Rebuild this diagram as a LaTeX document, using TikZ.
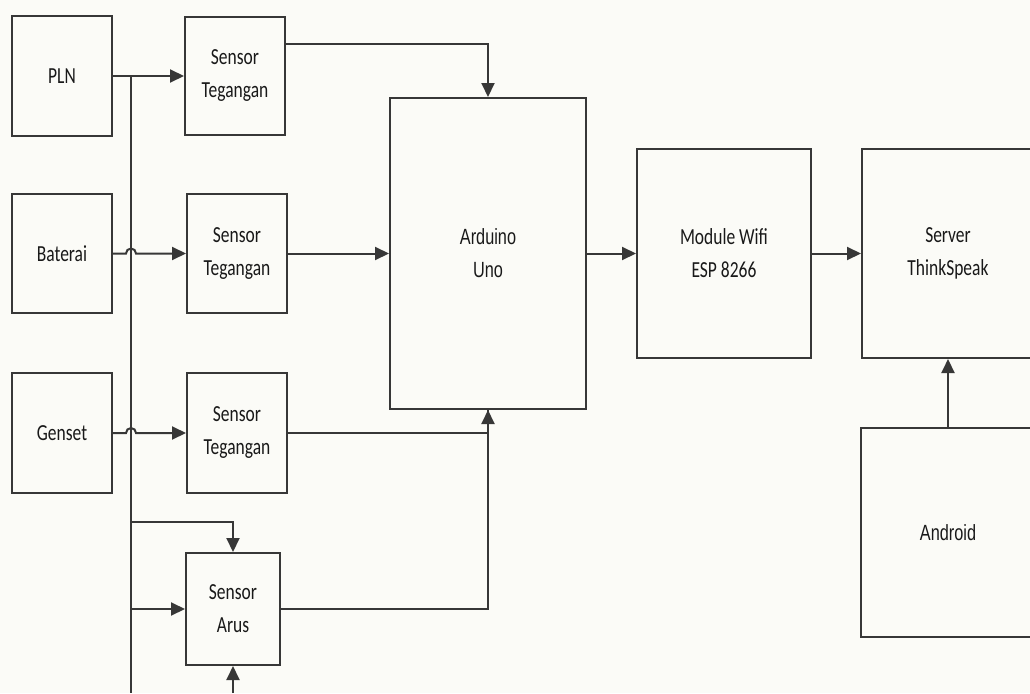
\documentclass[tikz,border=0pt]{standalone}
\usepackage{fontspec}
\usetikzlibrary{arrows.meta,calc}
\newfontfamily\cf[FakeStretch=0.76]{Carlito}
\newfontfamily\af[FakeStretch=0.74]{Liberation Sans}
\definecolor{bg}{RGB}{251,251,247}
\definecolor{ln}{RGB}{55,55,55}
\definecolor{tx}{RGB}{25,25,25}
\tikzset{
  blk/.style={draw=ln, line width=2pt, inner sep=0pt, align=center, text=tx,
    font={\cf\fontsize{23}{33}\selectfont}},
  blka/.style={blk, font={\af\fontsize{22}{33}\selectfont}},
  wire/.style={draw=ln, line width=2pt},
  arr/.style={wire, -{Triangle[length=14pt,width=13pt]}}
}
\begin{document}
\begin{tikzpicture}[x=1pt,y=-1pt]
\clip (0,0) rectangle (1030,693);
\fill[bg] (0,0) rectangle (1030,693);
% left column
\node[blk, minimum width=100pt, minimum height=120pt] (pln) at (62,76) {PLN};
\node[blk, minimum width=100pt, minimum height=119pt] (bat) at (62,253.5) {Baterai};
\node[blk, minimum width=100pt, minimum height=120pt] (gen) at (62,433) {Genset};
% sensors
\node[blk, minimum width=100pt, minimum height=118pt] (s1) at (235,76) {Sensor\\Tegangan};
\node[blk, minimum width=100pt, minimum height=119pt] (s2) at (237,253.5) {Sensor\\Tegangan};
\node[blk, minimum width=100pt, minimum height=120pt] (s3) at (237,433) {Sensor\\Tegangan};
\node[blk, minimum width=94pt, minimum height=112pt] (arus) at (233,609) {Sensor\\Arus};
% main blocks
\node[blka, minimum width=196pt, minimum height=311pt] (ard) at (488,253.5) {Arduino\\Uno};
\node[blk, minimum width=174pt, minimum height=209pt] (wifi) at (724,253.5) {Module Wifi\\ESP 8266};
\node[blk, minimum width=172pt, minimum height=209pt] (srv) at (948,253.5) {Server\\ThinkSpeak};
\node[blka, minimum width=174pt, minimum height=209pt] (and) at (948,532.5) {Android};
% bus
\coordinate (b0) at (131,76);
\coordinate (bend) at (131,693);
\coordinate (j1) at (131,522);
\draw[wire] (b0) -- (bend);
\draw[arr] (pln.east) -- (s1.west);
\draw[arr] (bat.east) -- ($(bat.east -| b0)+(-5,0)$) arc[start angle=180,end angle=0,radius=5pt] -- (s2.west);
\draw[arr] (gen.east) -- ($(gen.east -| b0)+(-5,0)$) arc[start angle=180,end angle=0,radius=5pt] -- (s3.west);
\draw[arr] (j1) -| (arus.north);
\draw[arr] (b0 |- arus.west) -- (arus.west);
\draw[arr] (arus.south |- bend) -- (arus.south);
% sensor outputs
\draw[arr] ($(s1.east)+(0,-32)$) -| (ard.north);
\draw[arr] (s2.east) -- (ard.west);
\draw[arr] (s3.east) -| (ard.south);
\draw[wire] (arus.east) -| (ard.south);
% right chain
\draw[arr] (ard.east) -- (wifi.west);
\draw[arr] (wifi.east) -- (srv.west);
\draw[arr] (and.north) -- (srv.south);
\end{tikzpicture}
\end{document}
